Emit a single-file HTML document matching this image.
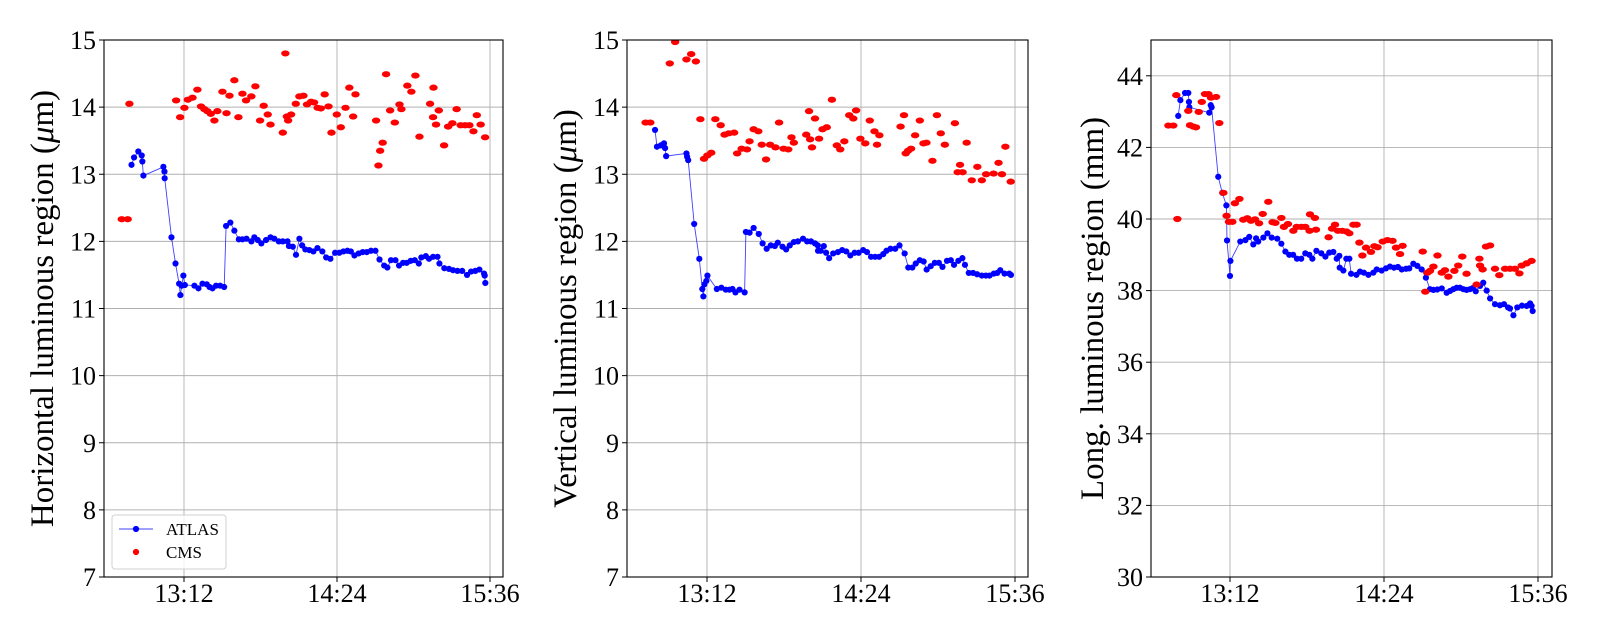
<!DOCTYPE html>
<html><head><meta charset="utf-8"><style>
html,body{margin:0;padding:0;background:#fff;}
svg{display:block;font-family:"Liberation Serif",serif;}
</style></head><body>
<svg id="chart" width="1600" height="640" viewBox="0 0 1600 640" xmlns="http://www.w3.org/2000/svg"></svg>
<script>
// times are minutes after 12:00
const xTickLabels = ["13:12","14:24","15:36"];
const xTickValues = [72,144,216];

const hAtlasT = [47.3,48.5,50.5,52.1,52.4,52.9,62.3,62.8,62.9,66.1,68.0,69.7,70.3,70.9,71.7,72.4,76.9,78.8,80.7,82.7,84.0,85.4,87.1,89.0,90.9,91.8,93.8,95.7,97.8,99.5,101.4,103.7,105.1,106.7,108.4,110.6,112.7,114.5,116.6,118.5,120.7,121.4,123.2,124.7,126.3,127.6,129.1,131.0,132.9,134.8,137.1,138.9,140.9,143.1,145.1,147.0,148.9,150.5,152.2,154.2,156.1,158.0,160.0,162.1,164.0,166.2,167.7,169.4,171.5,173.2,175.1,176.8,178.7,180.6,182.5,183.7,185.8,187.3,189.2,191.3,192.2,194.5,196.7,198.6,200.7,202.9,205.2,207.1,209.1,211.0,213.2,213.5,213.8];
const hAtlasV = [13.14,13.25,13.34,13.28,13.19,12.98,13.11,13.04,12.94,12.06,11.67,11.37,11.20,11.34,11.49,11.35,11.34,11.30,11.37,11.36,11.32,11.30,11.34,11.34,11.32,12.23,12.28,12.16,12.03,12.03,12.04,12.0,12.06,12.02,11.97,12.02,12.06,12.04,12.0,12.0,12.0,11.93,11.92,11.80,12.04,11.94,11.88,11.87,11.85,11.90,11.85,11.76,11.74,11.83,11.83,11.85,11.86,11.85,11.79,11.82,11.84,11.84,11.86,11.86,11.73,11.64,11.61,11.72,11.72,11.64,11.68,11.68,11.71,11.72,11.67,11.76,11.78,11.74,11.77,11.77,11.67,11.60,11.59,11.57,11.56,11.56,11.50,11.55,11.56,11.58,11.52,11.49,11.38];
const hCmsT = [42.7,45.5,46.3,68.3,70.2,72.2,73.8,76.0,78.3,80.0,81.6,83.0,84.6,86.3,87.7,90.1,92.0,93.4,95.7,97.6,99.5,101.2,103.7,105.6,107.8,109.5,111.4,112.7,118.5,119.7,120.4,121.0,122.4,124.6,126.3,128.2,129.9,131.8,133.2,134.9,136.4,138.2,140.0,141.4,143.9,145.8,148.0,149.8,151.6,152.7,162.4,163.5,164.3,165.5,167.1,169.0,171.2,173.4,174.3,177.1,179.0,180.9,182.8,187.8,189.4,189.2,190.6,191.9,194.4,196.3,198.3,200.3,202.2,204.3,206.3,208.2,209.8,211.6,213.7];
const hCmsV = [12.33,12.33,14.05,14.10,13.85,13.99,14.11,14.14,14.26,14.01,13.97,13.94,13.90,13.80,13.94,14.23,13.91,14.17,14.40,13.85,14.20,14.10,14.16,14.31,13.80,14.02,13.89,13.74,13.62,14.80,13.86,13.80,13.89,14.05,14.16,14.17,14.04,14.08,14.07,13.99,13.98,14.19,14.01,13.62,13.89,13.70,13.99,14.29,13.86,14.19,13.80,13.13,13.35,13.47,14.49,13.95,13.77,14.04,13.97,14.32,14.23,14.47,13.56,14.05,14.29,13.85,13.74,13.95,13.43,13.71,13.76,13.97,13.73,13.73,13.73,13.64,13.88,13.74,13.55];

const vAtlasT = [47.7,48.6,50.4,51.9,52.4,52.9,62.4,62.7,63.2,66.0,68.4,69.8,70.3,70.8,71.7,72.2,76.6,78.7,80.8,82.5,83.9,85.3,87.2,89.6,90.2,91.9,93.8,96.2,98.0,99.9,101.8,103.7,105.1,107.3,109.0,110.7,112.6,114.5,116.9,118.8,120.6,122.5,123.8,123.9,125.2,126.6,127.7,129.1,131.0,133.2,135.2,137.1,139.0,141.0,142.9,145.0,146.8,148.7,150.6,152.5,154.4,155.9,157.8,160.0,162.0,164.4,166.1,168.0,169.6,171.5,173.3,174.7,176.6,178.5,180.4,182.1,184.2,186.0,187.5,189.5,191.4,192.6,194.4,196.4,198.3,200.5,202.4,204.1,206.1,207.7,209.1,211.1,213.3,214.1];
const vAtlasV = [13.66,13.41,13.43,13.46,13.39,13.27,13.31,13.26,13.21,12.26,11.74,11.29,11.18,11.36,11.41,11.49,11.29,11.31,11.28,11.28,11.29,11.24,11.28,11.24,12.14,12.13,12.20,12.11,11.97,11.89,11.94,11.93,11.98,11.92,11.88,11.94,11.99,12.0,12.04,12.0,12.0,11.97,11.94,11.86,11.86,11.93,11.83,11.75,11.82,11.84,11.87,11.85,11.79,11.83,11.83,11.87,11.84,11.77,11.77,11.77,11.81,11.86,11.89,11.89,11.94,11.82,11.61,11.61,11.67,11.72,11.70,11.58,11.63,11.68,11.68,11.62,11.71,11.72,11.65,11.71,11.75,11.65,11.53,11.53,11.51,11.49,11.49,11.49,11.52,11.53,11.57,11.52,11.52,11.50];
const vCmsT = [43.3,45.5,54.6,57.1,62.4,64.6,66.8,68.9,70.6,72.2,74.0,75.9,78.4,80.2,82.2,84.7,86.1,88.2,90.7,91.9,93.8,96.0,97.6,99.6,101.5,104.0,105.7,107.8,110.0,111.5,112.6,118.4,119.7,120.2,121.1,122.5,124.4,126.0,128.0,130.4,132.7,134.3,136.2,138.5,140.4,141.7,143.7,146.0,148.1,150.3,151.5,152.6,162.5,164.1,164.9,166.0,167.4,169.3,171.5,173.2,174.6,177.4,179.5,181.3,183.2,187.9,189.2,190.3,191.5,193.4,195.8,198.4,200.5,202.5,206.0,208.3,209.9,211.5,214.0];
const vCmsV = [13.77,13.77,14.65,14.97,14.71,14.79,14.68,13.82,13.23,13.28,13.32,13.82,13.73,13.59,13.61,13.62,13.31,13.38,13.37,13.49,13.67,13.64,13.44,13.22,13.44,13.40,13.77,13.38,13.37,13.55,13.47,13.59,13.94,13.52,13.40,13.83,13.53,13.67,13.70,14.11,13.43,13.37,13.49,13.88,13.83,13.95,13.53,13.46,13.80,13.64,13.44,13.58,13.71,13.88,13.31,13.35,13.38,13.58,13.80,13.46,13.47,13.20,13.88,13.61,13.44,13.76,13.03,13.14,13.03,13.47,12.91,13.11,12.91,13.0,13.01,13.17,13.0,13.41,12.89];

const lAtlasT = [47.8,48.8,51.0,52.5,52.8,53.0,62.3,63.0,63.4,66.5,68.4,70.3,70.6,72.0,72.2,76.8,79.2,81.0,82.9,84.2,85.2,87.6,89.5,91.5,94.1,96.0,97.9,99.7,101.5,103.3,105.3,107.2,109.1,110.5,112.4,114.7,116.6,118.4,120.3,121.9,123.1,123.3,125.0,126.4,127.8,128.6,131.1,132.8,134.6,136.7,139.0,140.6,142.9,144.9,146.8,148.7,150.5,152.3,154.3,155.8,157.7,159.6,161.6,163.6,165.5,167.1,168.9,171.0,173.3,174.9,176.4,178.0,179.5,181.1,182.6,184.2,185.5,186.9,188.9,190.4,192.0,193.6,195.9,198.2,200.1,202.0,202.9,204.5,206.3,208.5,210.7,212.3,213.0,213.5];
const lAtlasV = [42.88,43.32,43.52,43.52,43.27,43.12,42.97,43.18,43.12,41.18,40.73,40.38,39.40,38.41,38.83,39.37,39.41,39.5,39.29,39.46,39.37,39.48,39.60,39.48,39.45,39.31,39.09,39.0,39.0,38.89,38.89,39.04,39.0,38.89,39.11,39.04,38.95,39.06,39.08,38.89,38.97,38.64,38.56,38.89,38.89,38.47,38.44,38.53,38.5,38.44,38.5,38.59,38.56,38.62,38.67,38.64,38.66,38.59,38.61,38.62,38.75,38.69,38.59,38.36,38.04,38.02,38.03,38.06,37.94,37.99,38.04,38.08,38.08,38.04,38.02,38.04,38.07,37.98,38.13,38.22,38.0,37.78,37.62,37.59,37.62,37.53,37.5,37.31,37.53,37.58,37.57,37.64,37.57,37.43];
const lCmsT = [43.2,45.5,46.9,47.4,52.5,53.3,54.9,56.1,57.4,58.8,60.3,61.9,63.1,65.5,67.0,68.9,70.4,71.5,73.1,74.3,76.4,78.2,80.1,81.8,83.7,85.6,87.3,89.9,91.9,93.2,96.0,97.2,99.1,101.6,103.2,105.4,107.2,109.2,109.4,111.7,112.2,118.1,119.7,121.1,122.5,124.5,126.5,127.8,129.7,131.2,132.5,133.9,135.6,137.9,139.5,141.0,143.4,145.6,148.0,149.6,151.5,152.7,162.1,163.3,164.3,165.5,167.1,169.0,171.0,172.5,174.1,176.9,178.7,180.6,182.6,187.3,188.6,188.9,190.1,191.7,193.6,195.9,197.9,200.6,202.9,205.2,207.3,208.4,210.7,213.0];
const lCmsV = [42.61,42.61,43.46,40.0,43.02,42.62,42.58,42.56,42.99,43.27,43.49,43.49,43.39,43.41,42.68,40.73,40.09,39.92,39.92,40.44,40.56,39.98,40.02,39.95,39.99,39.88,40.14,40.48,39.91,39.89,40.03,39.78,39.86,39.67,39.78,39.78,39.78,39.67,40.13,40.03,39.70,39.49,39.73,39.84,39.67,39.67,39.65,39.60,39.84,39.84,39.34,38.98,39.20,39.08,39.24,39.21,39.37,39.41,39.39,39.20,39.02,39.25,39.09,37.97,38.5,38.55,38.67,38.98,38.5,38.57,38.39,38.55,38.70,38.95,38.47,38.17,38.89,38.70,38.59,39.23,39.26,38.61,38.43,38.61,38.61,38.61,38.48,38.70,38.76,38.83];

const hYTicks = [7,8,9,10,11,12,13,14,15];
const vYTicks = [7,8,9,10,11,12,13,14,15];
const lYTicks = [30,32,34,36,38,40,42,44];

const panels = [
  {name:'horizontal', left:104, right:503, x0:184, span:153, ymin:7, ymax:15, ticks:hYTicks, title:'Horizontal luminous region (', unit:'μ', tail:'m)', tx:53, at:hAtlasT, av:hAtlasV, ct:hCmsT, cv:hCmsV, legend:true},
  {name:'vertical', left:627, right:1028, x0:707, span:154, ymin:7, ymax:15, ticks:vYTicks, title:'Vertical luminous region (', unit:'μ', tail:'m)', tx:576, at:vAtlasT, av:vAtlasV, ct:vCmsT, cv:vCmsV, legend:false},
  {name:'longitudinal', left:1151, right:1552, x0:1230, span:154, ymin:30, ymax:45, ticks:lYTicks, title:'Long. luminous region (mm)', unit:'', tail:'', tx:1103, at:lAtlasT, av:lAtlasV, ct:lCmsT, cv:lCmsV, legend:false}
];
const TOP=40, BOT=577;
const NS='http://www.w3.org/2000/svg';
const svg=document.getElementById('chart');
function mk(tag, attrs, parent){const e=document.createElementNS(NS,tag);for(const k in attrs)e.setAttribute(k,attrs[k]);(parent||svg).appendChild(e);return e;}

panels.forEach(p=>{
  const pxPerMin=p.span/72;
  const xs=t=>p.x0+(t-72)*pxPerMin;
  const ys=v=>BOT-(v-p.ymin)/(p.ymax-p.ymin)*(BOT-TOP);
  const g=mk('g',{});
  
  
  const clipId='clip-'+p.name;
  const cp=mk('clipPath',{id:clipId},g); mk('rect',{x:p.left,y:TOP,width:p.right-p.left,height:BOT-TOP},cp);
  const grid=mk('g',{stroke:'#b0b0b0','stroke-width':0.9},g);
  
  
  xTickValues.forEach(t=>mk('line',{x1:xs(t),x2:xs(t),y1:TOP,y2:BOT},grid));
  p.ticks.forEach(v=>mk('line',{x1:p.left,x2:p.right,y1:ys(v),y2:ys(v)},grid));
  const data=mk('g',{'clip-path':'url(#'+clipId+')'},g);
  let d='';
  p.at.forEach((t,i)=>{d+=(i?'L':'M')+xs(t).toFixed(1)+' '+ys(p.av[i]).toFixed(1);});
  const line=mk('path',{d:d,fill:'none',stroke:'#0000ff','stroke-width':0.9,'stroke-opacity':0.75},data);
  
  
  p.at.forEach((t,i)=>{
    const c=mk('circle',{cx:xs(t),cy:ys(p.av[i]),r:3.1,fill:'#0000ff'},data);
    
    
  });
  p.ct.forEach((t,i)=>{
    const c=mk('ellipse',{cx:xs(t),cy:ys(p.cv[i]),rx:4.2,ry:3.1,fill:'#ff0000'},data);
    
    
  });
  const fr=mk('rect',{x:p.left,y:TOP,width:p.right-p.left,height:BOT-TOP,fill:'none',stroke:'#000','stroke-width':1.1},g);
  
  
  xTickValues.forEach((t,i)=>{
    mk('line',{x1:xs(t),x2:xs(t),y1:BOT,y2:BOT+5,stroke:'#000','stroke-width':1},g);
    const tx=mk('text',{x:xs(t),y:BOT+25,'text-anchor':'middle','font-size':26,fill:'#000'},g);
    tx.textContent=xTickLabels[i];
    
    
  });
  p.ticks.forEach(v=>{
    mk('line',{x1:p.left-5,x2:p.left,y1:ys(v),y2:ys(v),stroke:'#000','stroke-width':1},g);
    const tx=mk('text',{x:p.left-8,y:ys(v)+9,'text-anchor':'end','font-size':26,fill:'#000'},g);
    tx.textContent=String(v);
    
    
  });
  const ty=(TOP+BOT)/2;
  const tt=mk('text',{x:0,y:0,transform:'translate('+p.tx+','+ty+') rotate(-90)','text-anchor':'middle','font-size':33,fill:'#000'},g);
  
  
  if(p.unit){
    tt.appendChild(document.createTextNode(p.title));
    const ts=mk('tspan',{'font-style':'italic'},tt); ts.textContent=p.unit;
    tt.appendChild(document.createTextNode(p.tail));
  } else tt.textContent=p.title;
  if(p.legend){
    const lg=mk('g',{},g);
    
    
    mk('rect',{x:112,y:515,width:114,height:54,rx:3,fill:'#fff','fill-opacity':0.8,stroke:'#d0d0d0','stroke-width':1},lg);
    mk('line',{x1:119,x2:153,y1:529,y2:529,stroke:'#0000ff','stroke-width':0.9,'stroke-opacity':0.75},lg);
    mk('circle',{cx:136,cy:529,r:3.1,fill:'#0000ff'},lg);
    const a=mk('text',{x:166,y:535,'font-size':17,fill:'#000'},lg); a.textContent='ATLAS';
    
    
    mk('circle',{cx:136,cy:552,r:3.1,fill:'#ff0000'},lg);
    const b=mk('text',{x:166,y:558,'font-size':17,fill:'#000'},lg); b.textContent='CMS';
    
    
  }
});
</script>
</body></html>
